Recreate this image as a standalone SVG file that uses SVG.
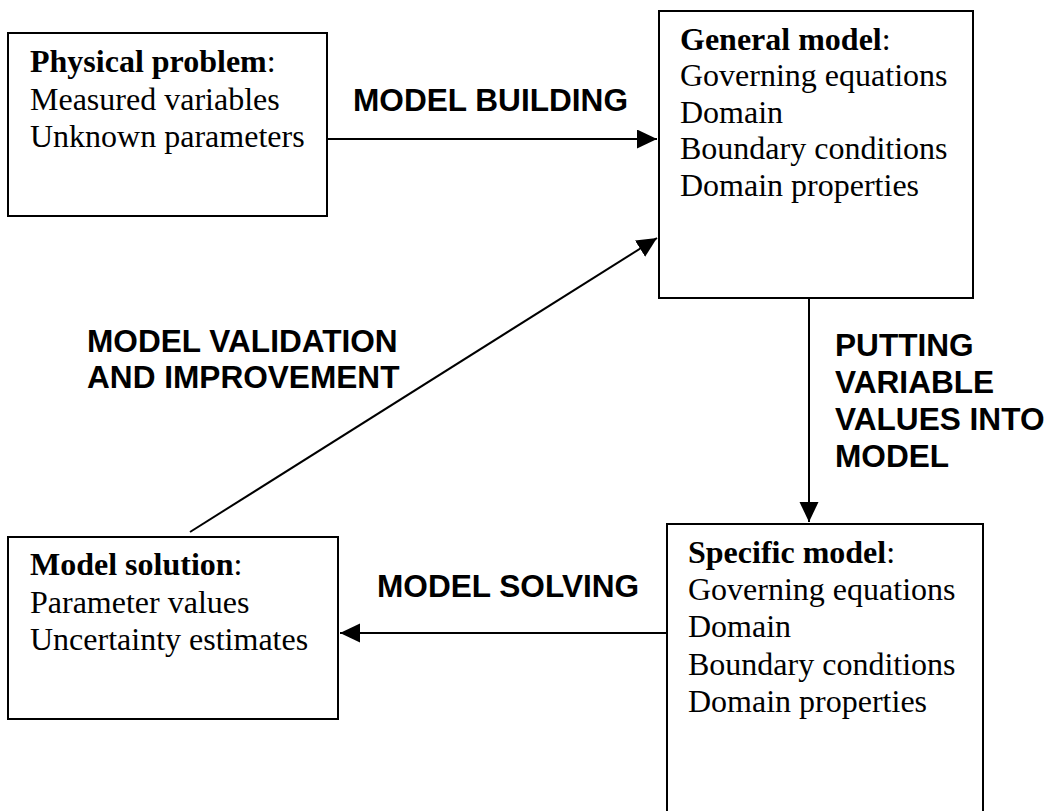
<svg xmlns="http://www.w3.org/2000/svg" width="1050" height="811" viewBox="0 0 1050 811">
<style>
.box{fill:#fff;stroke:#000;stroke-width:2}
.t{font-family:"Liberation Serif","Times New Roman",serif;font-size:32px;fill:#000}
.b{font-weight:bold}
.lbl{font-family:"Liberation Sans",Arial,sans-serif;font-size:31.6px;font-weight:bold;fill:#000}
.con{stroke:#000;stroke-width:2;fill:none}
</style>
<defs>
<marker id="arr" markerUnits="userSpaceOnUse" markerWidth="22" markerHeight="20" refX="20" refY="9.5" orient="auto">
<path d="M0,0 L20,9.5 L0,19 Z" fill="#000"/>
</marker>
</defs>
<rect width="1050" height="811" fill="#fff"/>
<g id="physical-problem">
<rect class="box" x="8" y="33" width="319" height="183"/>
<text class="t" x="30" y="72"><tspan class="b">Physical problem</tspan>:</text>
<text class="t" x="30" y="110">Measured variables</text>
<text class="t" x="30" y="147">Unknown parameters</text>
</g>
<g id="general-model">
<rect class="box" x="659" y="11" width="314" height="287"/>
<text class="t" x="680" y="50"><tspan class="b">General model</tspan>:</text>
<text class="t" x="680" y="86">Governing equations</text>
<text class="t" x="680" y="123">Domain</text>
<text class="t" x="680" y="159">Boundary conditions</text>
<text class="t" x="680" y="196">Domain properties</text>
</g>
<g id="specific-model">
<rect class="box" x="667" y="524" width="316" height="310"/>
<text class="t" x="688" y="563"><tspan class="b">Specific model</tspan>:</text>
<text class="t" x="688" y="600">Governing equations</text>
<text class="t" x="688" y="637">Domain</text>
<text class="t" x="688" y="675">Boundary conditions</text>
<text class="t" x="688" y="712">Domain properties</text>
</g>
<g id="model-solution">
<rect class="box" x="8" y="537" width="330" height="182"/>
<text class="t" x="30" y="575"><tspan class="b">Model solution</tspan>:</text>
<text class="t" x="30" y="613">Parameter values</text>
<text class="t" x="30" y="650">Uncertainty estimates</text>
</g>
<g id="connectors">
<line class="con" x1="327" y1="139" x2="657" y2="139" marker-end="url(#arr)"/>
<line class="con" x1="809" y1="298" x2="809" y2="522" marker-end="url(#arr)"/>
<line class="con" x1="667" y1="633" x2="340" y2="633" marker-end="url(#arr)"/>
<line class="con" x1="190" y1="532" x2="657" y2="238" marker-end="url(#arr)"/>
</g>
<g id="labels">
<text class="lbl" x="353" y="111">MODEL BUILDING</text>
<text class="lbl" x="835" y="356">PUTTING</text>
<text class="lbl" x="835" y="393">VARIABLE</text>
<text class="lbl" x="835" y="430">VALUES INTO</text>
<text class="lbl" x="835" y="467">MODEL</text>
<text class="lbl" x="377" y="597">MODEL SOLVING</text>
<text class="lbl" x="87" y="352">MODEL VALIDATION</text>
<text class="lbl" x="87" y="388">AND IMPROVEMENT</text>
</g>
</svg>
